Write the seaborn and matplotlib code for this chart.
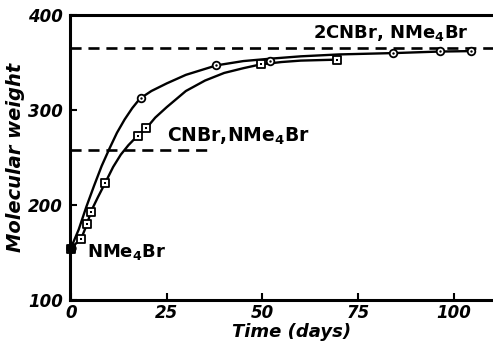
import matplotlib
matplotlib.use("Agg")
import matplotlib.pyplot as plt
import seaborn as sns
import pandas as pd

# ---- data ----
circle_t = [0, 18.4, 37.8, 51.9, 84, 96.4, 104.4]
circle_mw = [155, 313, 347, 352, 360, 362, 362]

square_t = [0, 2.6, 4.2, 5.2, 8.9, 17.4, 19.7, 49.5, 69.4]
square_mw = [154, 164, 180, 193, 223, 273, 281, 348, 352.5]

# hand-drawn smooth curves
upper_t = [0, 2, 4, 6, 8, 10, 12, 14, 16, 18, 21, 25, 30, 38, 45, 52, 60, 70, 85, 96, 104.4]
upper_mw = [155, 174, 198, 220, 241, 259, 276, 290, 302, 312, 320, 328, 337, 347, 351.5, 354, 356.5, 358.5, 360, 361.5, 362]

lower_t = [0, 2.6, 4.2, 5.2, 7, 8.9, 11, 13, 15, 17.4, 19.7, 22, 25, 30, 35, 40, 45, 49.5, 55, 60, 69.4]
lower_mw = [155, 164, 180, 193, 208, 223, 240, 253, 263, 273, 281, 292, 303, 320, 331, 339, 344, 348, 350.5, 352, 353]

ref_levels = [365, 258]
ref_labels = [r"2CNBr, NMe$_\mathbf{4}$Br", r"CNBr,NMe$_\mathbf{4}$Br"]
start_label = r"NMe$_\mathbf{4}$Br"

x_ticks = [0, 25, 50, 75, 100]
y_ticks = [100, 200, 300, 400]

sns.set_style("ticks")
plt.rcParams['font.family'] = ['DejaVu Sans']
plt.rcParams['text.color'] = 'black'
plt.rcParams['axes.labelcolor'] = 'black'
plt.rcParams['xtick.color'] = 'black'
plt.rcParams['ytick.color'] = 'black'
plt.rcParams['mathtext.default'] = 'bf'

fig = plt.figure(figsize=(4.93, 3.42), dpi=100)
ax = fig.add_axes([70 / 493, 1 - 300 / 342, 1 - 70 / 493, (300 - 15) / 342])

upper_df = pd.DataFrame({"t": upper_t, "mw": upper_mw})
lower_df = pd.DataFrame({"t": lower_t, "mw": lower_mw})
sns.lineplot(data=upper_df, x="t", y="mw", ax=ax, color="black", lw=1.7,
             sort=False, estimator=None)
sns.lineplot(data=lower_df, x="t", y="mw", ax=ax, color="black", lw=1.7,
             sort=False, estimator=None)

# dashed reference levels
ax.plot([-0.3, 111], [ref_levels[0]] * 2, color="black", lw=1.9, ls=(0, (4.2, 2.6)))
ax.plot([-0.3, 36.5], [ref_levels[1]] * 2, color="black", lw=1.9, ls=(0, (4.2, 2.6)))

# markers
cdf = pd.DataFrame({"t": circle_t, "mw": circle_mw})
sdf = pd.DataFrame({"t": square_t, "mw": square_mw})
sns.scatterplot(data=cdf, x="t", y="mw", ax=ax, marker="o", s=30,
                facecolor="white", edgecolor="black", linewidth=1.3, zorder=5, clip_on=False)
sns.scatterplot(data=sdf, x="t", y="mw", ax=ax, marker="s", s=30,
                facecolor="white", edgecolor="black", linewidth=1.3, zorder=5, clip_on=False)
sns.scatterplot(data=cdf, x="t", y="mw", ax=ax, marker="o", s=3,
                color="black", linewidth=0, zorder=6, clip_on=False)
sns.scatterplot(data=sdf, x="t", y="mw", ax=ax, marker="s", s=3,
                color="black", linewidth=0, zorder=6, clip_on=False)
ax.scatter([0], [154.5], s=40, color="black", zorder=7, clip_on=False)

# labels on the plot
ax.text(63.3, 381, ref_labels[0], fontsize=13, fontweight="bold", va="center", ha="left")
ax.text(25.0, 272, ref_labels[1], fontsize=13.5, fontweight="bold", va="center", ha="left")
ax.text(4.2, 150, start_label, fontsize=13, fontweight="bold", va="center", ha="left")

ax.set_xlim(-0.26, 110.2)
ax.set_ylim(100, 400)
ax.set_xticks(x_ticks)
ax.set_yticks(y_ticks)
ax.set_xticklabels([str(v) for v in x_ticks], fontsize=12, fontweight="bold", fontstyle="italic")
ax.set_yticklabels([str(v) for v in y_ticks], fontsize=12, fontweight="bold", fontstyle="italic")
ax.tick_params(direction="in", length=5, width=1.5, pad=5, colors="black")
ax.tick_params(axis="x", pad=3)

ax.set_xlabel("Time (days)", fontsize=13, fontweight="bold", fontstyle="italic")
ax.xaxis.set_label_coords(0.524, -0.082)
ax.set_ylabel("Molecular weight", fontsize=14, fontweight="bold", fontstyle="italic", labelpad=2)

for side in ["left", "bottom", "top"]:
    ax.spines[side].set_visible(True)
    ax.spines[side].set_linewidth(2.2)
    ax.spines[side].set_color("black")
ax.spines["right"].set_visible(False)

fig.savefig("out.png", dpi=100)
